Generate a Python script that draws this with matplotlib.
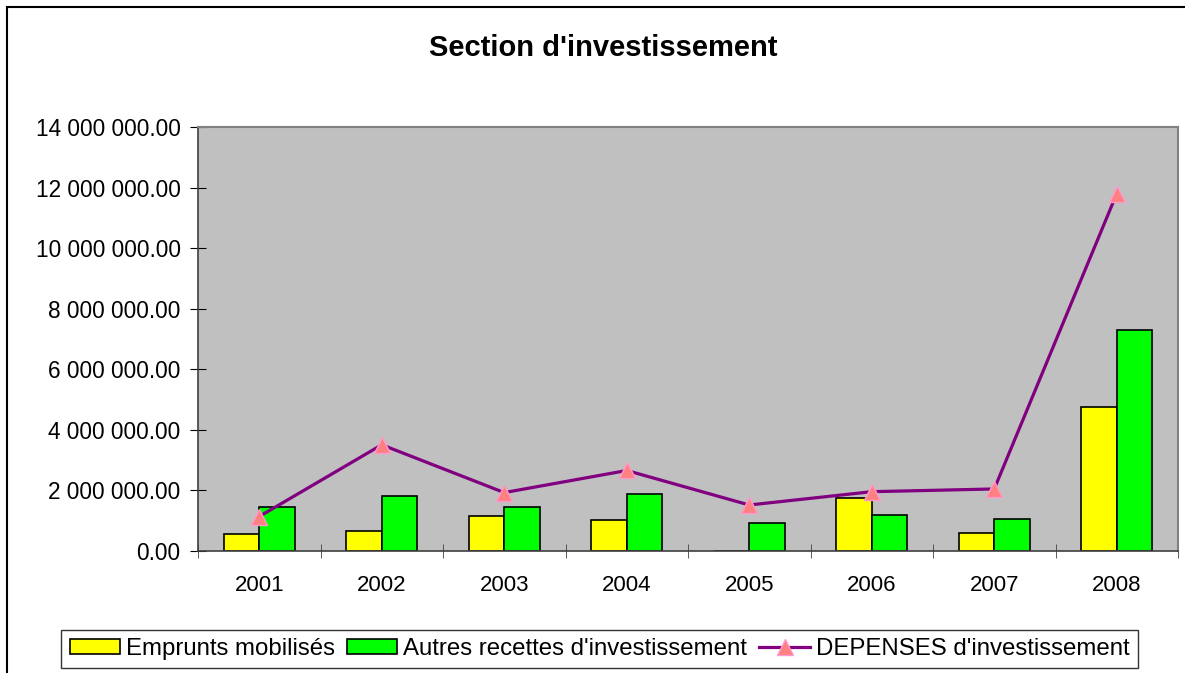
import numpy as np
from matplotlib import pyplot as plt
from matplotlib.patches import Rectangle
from matplotlib.ticker import FuncFormatter

plt.rcParams['font.family'] = ['Liberation Sans', 'DejaVu Sans']

years = ['2001', '2002', '2003', '2004', '2005', '2006', '2007', '2008']
emprunts = [0.54e6, 0.66e6, 1.15e6, 1.03e6, 0.0, 1.75e6, 0.60e6, 4.75e6]
autres = [1.45e6, 1.81e6, 1.45e6, 1.89e6, 0.91e6, 1.19e6, 1.04e6, 7.30e6]
depenses = [1.13e6, 3.50e6, 1.92e6, 2.65e6, 1.51e6, 1.95e6, 2.04e6, 11.80e6]


def fmt(v, pos):
    s = '{:,.2f}'.format(v)
    return s.replace(',', ' ')


W, H = 1185, 673
fig = plt.figure(figsize=(W / 100, H / 100), dpi=100)

# outer chart border (only top/left visible in the reference)
fig.add_artist(Rectangle((7 / W, -0.1), 1.2, 1 - 7 / H + 0.1, transform=fig.transFigure,
                         fill=False, edgecolor='black', lw=1.5, clip_on=False))

ax = fig.add_axes([198 / W, (H - 550.7) / H, 980 / W, (550.7 - 127) / H])
ax.set_facecolor('#C0C0C0')

x = np.arange(len(years))
bw = 0.29
b1 = ax.bar(x - bw / 2, emprunts, bw, color='#FFFF00', edgecolor='black', lw=1.2, zorder=2)
b2 = ax.bar(x + bw / 2, autres, bw, color='#00FF00', edgecolor='black', lw=1.2, zorder=2)
l1, = ax.plot(x, depenses, color='#800080', lw=2.3, marker='^', markersize=12,
              markerfacecolor='#FF8080', markeredgecolor='#FF99CC', markeredgewidth=1,
              zorder=3)

ax.set_xlim(-0.5, len(years) - 0.5)
ax.set_ylim(0, 14e6)
ax.set_yticks(np.arange(0, 14e6 + 1, 2e6))
ax.yaxis.set_major_formatter(FuncFormatter(fmt))
ax.set_xticks(x)
ax.set_xticklabels(years)
ax.set_xticks(np.arange(-0.5, len(years), 1), minor=True)
ax.tick_params(axis='x', which='major', length=0, pad=17.5, labelsize=16)
ax.tick_params(axis='x', which='minor', direction='inout', length=10, color='#404040')
ax.tick_params(axis='y', direction='inout', length=11, pad=7, labelsize=16.3)

for side in ['top', 'right']:
    ax.spines[side].set_color('#808080')
    ax.spines[side].set_linewidth(1.5)
for side in ['left', 'bottom']:
    ax.spines[side].set_color('#404040')
    ax.spines[side].set_linewidth(1.2)

fig.text(603 / W, 1 - 48 / H, "Section d'investissement", ha='center', va='center',
         fontsize=21, fontweight='bold')

leg = fig.legend([b1, b2, l1],
                 ['Emprunts mobilisés', "Autres recettes d'investissement",
                  "DEPENSES d'investissement"],
                 loc='center', bbox_to_anchor=(599.5 / W, 1 - 649 / H), ncol=3,
                 fontsize=17.3, frameon=True, fancybox=False, edgecolor='black',
                 handlelength=2.1, handleheight=0.6, handletextpad=0.25,
                 columnspacing=0.5, borderpad=0.35)
leg.get_frame().set_linewidth(1.0)

fig.savefig('out.png', dpi=100)
